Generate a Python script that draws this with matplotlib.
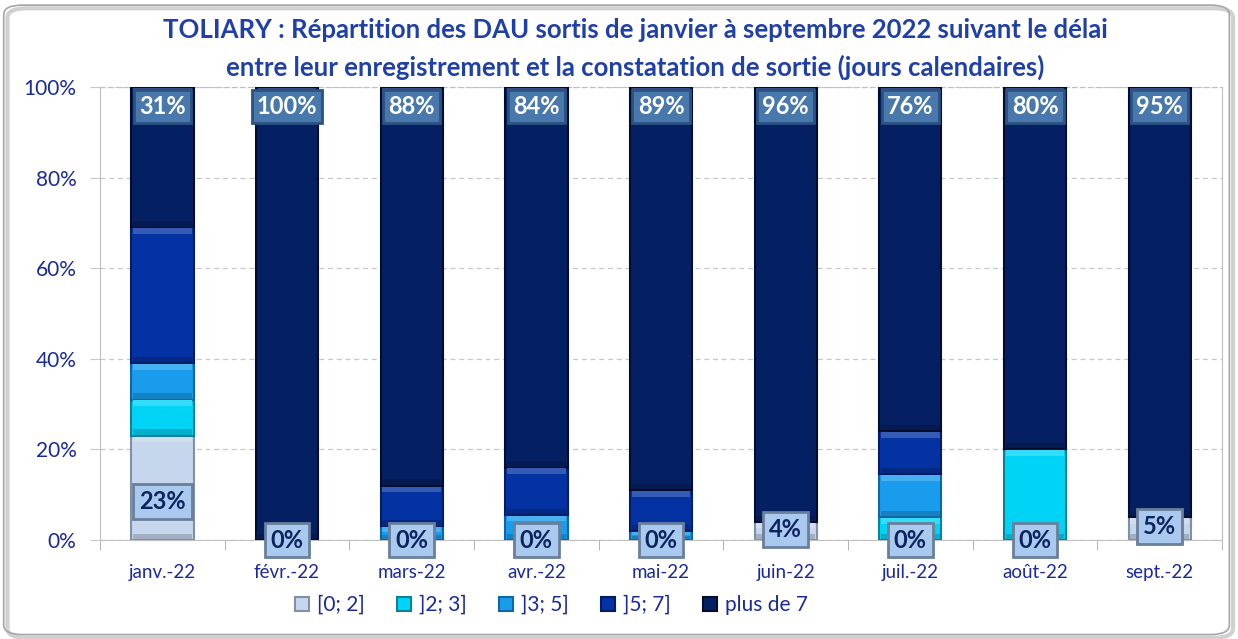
import numpy as np
import matplotlib.pyplot as plt
from matplotlib.patches import FancyBboxPatch
from matplotlib.colors import to_rgb

plt.rcParams['font.family'] = ['Lato', 'DejaVu Sans']

months = ["janv.-22", "févr.-22", "mars-22", "avr.-22", "mai-22",
          "juin-22", "juil.-22", "août-22", "sept.-22"]
series = ["[0; 2]", "]2; 3]", "]3; 5]", "]5; 7]", "plus de 7"]
d0_2 = [0.23, 0.00, 0.00, 0.00, 0.00, 0.04, 0.00, 0.00, 0.05]
d2_3 = [0.08, 0.00, 0.00, 0.00, 0.00, 0.00, 0.05, 0.20, 0.00]
d3_5 = [0.08, 0.00, 0.03, 0.055, 0.02, 0.00, 0.095, 0.00, 0.00]
d5_7 = [0.30, 0.00, 0.09, 0.105, 0.09, 0.00, 0.095, 0.00, 0.00]
d7p = [0.31, 1.00, 0.88, 0.84, 0.89, 0.96, 0.76, 0.80, 0.95]

colors = ["#C6D6EC", "#00D4F6", "#1A9CEC", "#0432A2", "#052062"]
edges = ["#7F90A8", "#0A8198", "#0F66A6", "#021C66", "#020C2E"]
navy = "#1A2A9C"


def mix(c, other, t):
    c, o = np.array(to_rgb(c)), np.array(to_rgb(other))
    return tuple(c * (1 - t) + o * t)


W, H = 1238, 639
fig = plt.figure(figsize=(W / 100, H / 100), dpi=100)
ax = fig.add_axes([100 / W, 1 - 540 / H, 1122 / W, 453 / H])

# rounded outer frame with a light shadow
fig.patches.append(FancyBboxPatch((0.006, 0.002), 0.99, 0.985,
                                  boxstyle="round,pad=0,rounding_size=0.015",
                                  transform=fig.transFigure, fc="none",
                                  ec="#D0D0D0", lw=3))
fig.patches.append(FancyBboxPatch((0.003, 0.007), 0.99, 0.985,
                                  boxstyle="round,pad=0,rounding_size=0.015",
                                  transform=fig.transFigure, fc="none",
                                  ec="#A6A6A6", lw=1.2))

x = np.arange(len(months))
w = 0.5
bottom = np.zeros(len(months))
data = [d0_2, d2_3, d3_5, d5_7, d7p]
for vals, c, e, lab in zip(data, colors, edges, series):
    vals = np.array(vals)
    ax.bar(x, vals, w, bottom=bottom, color=c, edgecolor=e, lw=1.5,
           label=lab, zorder=3)
    # bevel: lighter band on top, slightly darker band at the bottom
    bh = np.minimum(0.012, vals / 3)
    ax.bar(x, bh, w * 0.94, bottom=bottom + vals - bh - 0.002,
           color=mix(c, "white", 0.2), lw=0, zorder=4)
    ax.bar(x, bh, w * 0.94, bottom=bottom + 0.002,
           color=mix(c, "black", 0.18), lw=0, zorder=4)
    bottom += vals

# data labels: [0; 2] near the bottom, plus de 7 at the top
for i in range(len(months)):
    v = d0_2[i]
    y = v * 0.6 if v < 0.1 else v / 2 - 0.03
    ax.text(x[i], y, f"{v:.0%}", ha="center", va="center", fontsize=17,
            fontweight="bold", color="#0C2360", zorder=6,
            bbox=dict(boxstyle="square,pad=0.25", fc="#A9C9EE",
                      ec="#6A7F9C", lw=2))
    v = d7p[i]
    ax.text(x[i], 1 - 0.043, f"{v:.0%}", ha="center", va="center",
            fontsize=17, fontweight="bold", color="white", zorder=6,
            bbox=dict(boxstyle="square,pad=0.22", fc="#4878AC",
                      ec="#2A5283", lw=2))

ax.set_ylim(0, 1)
ax.set_xlim(-0.5, len(months) - 0.5)
yt = np.arange(0, 1.01, 0.2)
ax.set_yticks(yt)
ax.set_yticklabels([f"{t:.0%}" for t in yt], fontsize=15, color=navy)
ax.set_xticks(x)
ax.set_xticklabels(months, fontsize=13.5, color=navy)
ax.set_xticks(np.arange(-0.5, len(months)), minor=True)
ax.tick_params(axis="x", which="major", length=0, pad=17)
ax.tick_params(axis="x", which="minor", length=7, color="#A8A8A8")
ax.tick_params(axis="y", length=7, color="#C8C8C8", pad=10)
ax.grid(axis="y", ls=(0, (4, 3)), color="#C8C8C8", lw=0.9, zorder=0)
for s in ax.spines.values():
    s.set_color("#BFBFBF")
ax.spines["top"].set_linestyle((0, (4, 3)))

title_c = "#1F40A8"
fig.text(0.513, 1 - 30 / H,
         "TOLIARY : Répartition des DAU sortis de janvier à septembre 2022 suivant le délai",
         ha="center", va="center", fontsize=18.5, fontweight="bold", color=title_c)
fig.text(0.513, 1 - 67 / H,
         "entre leur enregistrement et la constatation de sortie (jours calendaires)",
         ha="center", va="center", fontsize=18.5, fontweight="bold", color=title_c)

fig.legend(*ax.get_legend_handles_labels(), loc="center left",
           bbox_to_anchor=(287 / W, 1 - 605 / H), ncol=5, frameon=False,
           fontsize=15, labelcolor=navy, handlelength=0.65, handleheight=0.65,
           columnspacing=1.55, handletextpad=0.4, borderaxespad=0)

fig.savefig("out.png", dpi=100)
